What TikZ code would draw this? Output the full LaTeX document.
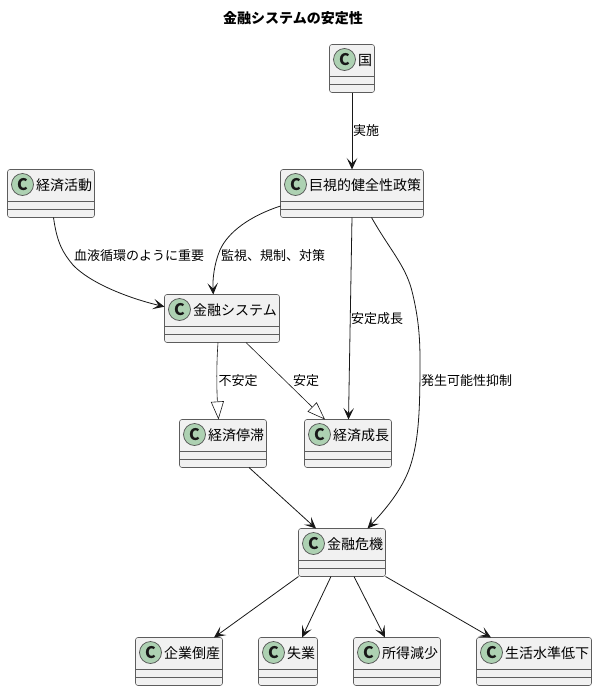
\documentclass[tikz,border=0pt]{standalone}
\usepackage{fontspec}
\setmainfont{Noto Sans CJK JP}
\usetikzlibrary{arrows.meta,calc}
\definecolor{boxfill}{HTML}{F1F1F1}
\definecolor{ink}{HTML}{181818}
\definecolor{badge}{HTML}{ADD1B2}
\tikzset{
  classbox/.style={draw=ink!70,line width=0.6pt,fill=boxfill,rounded corners=2.5pt,inner sep=0pt,outer sep=0pt,anchor=north west},
  sep/.style={draw=ink!70,line width=0.6pt},
  badgec/.style={circle,draw=ink!75,line width=0.7pt,fill=badge,minimum size=22pt,inner sep=0pt},
  classtext/.style={font=\fontsize{14}{14}\selectfont,anchor=west,inner sep=0pt,text=black},
  edgelabel/.style={font=\fontsize{13}{13}\selectfont,anchor=west,inner sep=0pt,text=black},
  conn/.style={draw=ink,line width=0.8pt,-{Stealth[length=11.5pt,width=10.5pt,inset=5.5pt]}},
  gen/.style={draw=ink,line width=0.6pt,-{Triangle[open,length=18pt,width=13pt,fill=white]}},
}
% name, left, top, width, label
\newcommand{\classnode}[5]{%
  \node[classbox,minimum width=#4pt,minimum height=48pt] (#1) at (#2,#3) {};
  \draw[sep] ($(#1.north west)+(0,32)$) -- ($(#1.north east)+(0,32)$);
  \draw[sep] ($(#1.north west)+(0,40)$) -- ($(#1.north east)+(0,40)$);
  \node[badgec] (#1b) at ($(#1.north west)+(15,15)$) {};
  \node[font=\fontsize{16}{16}\selectfont\bfseries,inner sep=0pt,text=ink] at (#1b) {C};
  \node[classtext] (#1t) at ($(#1.north west)+(28.5,15.5)$) {#5};
}
\begin{document}
\begin{tikzpicture}[x=1pt,y=-1pt]
\useasboundingbox (0,0) rectangle (597,691);
\node[font=\fontsize{14}{14}\selectfont\bfseries,inner sep=0pt,text=black] (title) at (293,18) {金融システムの安定性};
\classnode{kuni}{329.5}{44.5}{45}{国}
\classnode{kyoshi}{280.5}{169.5}{143}{巨視的健全性政策}
\classnode{katsudo}{7.5}{169.5}{87}{経済活動}
\classnode{kinyu}{164.5}{294.5}{115}{金融システム}
\classnode{teitai}{179.5}{419.5}{87}{経済停滞}
\classnode{seicho}{304.5}{419.5}{87}{経済成長}
\classnode{kiki}{298.5}{528.5}{87}{金融危機}
\classnode{tosan}{135.5}{637.5}{87}{企業倒産}
\classnode{shitsu}{258.5}{637.5}{59}{失業}
\classnode{shotoku}{353.5}{637.5}{87}{所得減少}
\classnode{seikatsu}{476.5}{637.5}{115}{生活水準低下}

\draw[conn] (kuni.south) -- (kyoshi.north);
\node[edgelabel] (l1) at (353,130.5) {実施};
\draw[conn] ([yshift=-36.5pt]kyoshi.north west) .. controls (250,216) and (228,232) .. (220,250) .. controls (214,264) and (212.5,280) .. ([xshift=-8.7pt]kinyu.north);
\node[edgelabel] (l2) at (221,255.5) {監視、規制、対策};
\draw[conn] ([xshift=2.5pt]katsudo.south) .. controls (57,243) and (63,253) .. (73,265) .. controls (90,283) and (128,298) .. ([yshift=-12.2pt]kinyu.north west);
\node[edgelabel] (l3) at (74,255.5) {血液循環のように重要};
\draw[conn] (kyoshi.south) -- ([xshift=0.5pt]seicho.north);
\node[edgelabel] (l4) at (351,318.5) {安定成長};
\draw[conn] ([xshift=19.5pt]kyoshi.south) .. controls (390,250) and (405,265) .. (411.7,290) .. controls (418,315) and (420,335) .. (420,360) .. controls (420,410) and (419,440) .. (410,467) .. controls (402,490) and (385,510) .. ([xshift=25.5pt]kiki.north);
\node[edgelabel] (l5) at (421,380.5) {発生可能性抑制};
\draw[gen] ([xshift=-4pt]kinyu.south) .. controls (216,370) and (217,395) .. ([xshift=-4.5pt]teitai.north);
\node[edgelabel] (l6) at (218.5,380.5) {不安定};
\draw[gen] ([xshift=24pt]kinyu.south) -- ([xshift=-23pt]seicho.north);
\node[edgelabel] (l7) at (293,380.5) {安定};
\draw[conn] ([xshift=26pt]teitai.south) -- ([xshift=-26pt]kiki.north);
\draw[conn] (kiki.south west) -- ([xshift=35pt]tosan.north);
\draw[conn] ([xshift=-11pt]kiki.south) -- ([xshift=14pt]shitsu.north);
\draw[conn] ([xshift=12pt]kiki.south) -- ([xshift=-12pt]shotoku.north);
\draw[conn] (kiki.south east) -- ([xshift=-43pt]seikatsu.north);
\end{tikzpicture}
\end{document}
